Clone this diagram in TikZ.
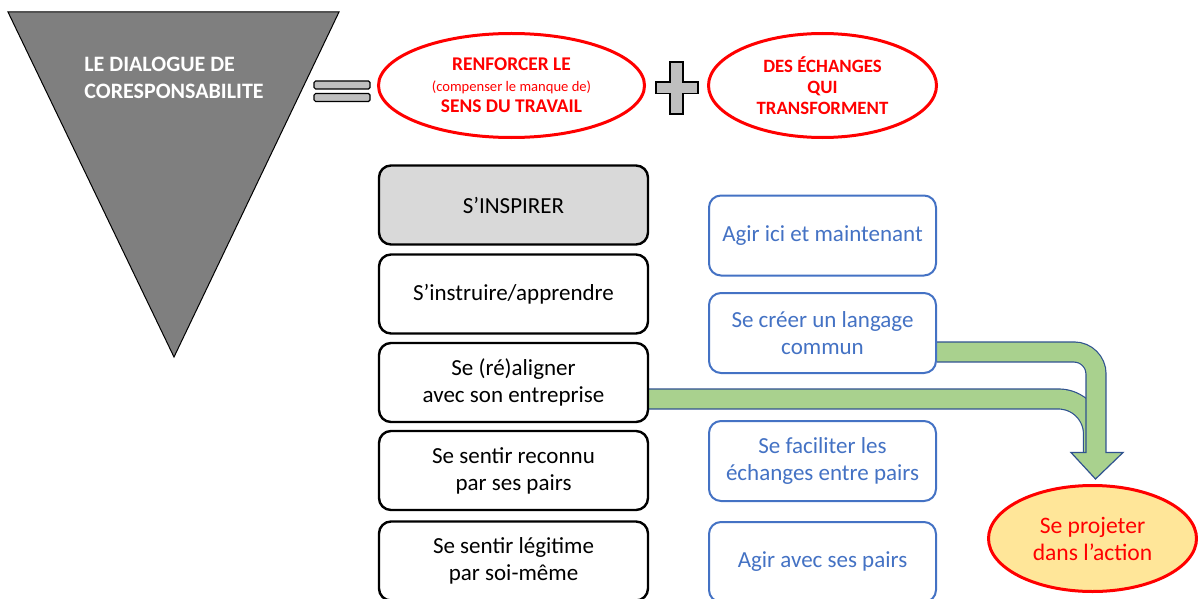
\documentclass[tikz,border=0pt]{standalone}
\usepackage{fontspec}
\setmainfont{Carlito}
\definecolor{DLGgray}{HTML}{7F7F7F}
\definecolor{DLGlight}{HTML}{BFBFBF}
\definecolor{DLGbox}{HTML}{D9D9D9}
\definecolor{DLGred}{HTML}{FF0000}
\definecolor{DLGblue}{HTML}{4472C4}
\definecolor{DLGgreen}{HTML}{A9D18E}
\definecolor{DLGedge}{HTML}{2F528F}
\definecolor{DLGyellow}{HTML}{FFE699}
\usetikzlibrary{shapes.geometric, calc, positioning, backgrounds}

\begin{document}
\begin{tikzpicture}[x=0.5pt, y=-0.5pt,
      leftbox/.style={draw=black, line width=1.2pt, rounded corners=6pt, fill=white,
         minimum width=134.5pt, minimum height=39.5pt, inner sep=0pt, align=center,
         font=\fontsize{11.5}{13.5}\selectfont},
      rightbox/.style={draw=DLGblue, line width=1pt, rounded corners=6pt, fill=white,
         minimum width=113.5pt, minimum height=40pt, inner sep=0pt, align=center,
         text=DLGblue, font=\fontsize{11.5}{13.5}\selectfont},
      redoval/.style={ellipse, draw=DLGred, line width=1.5pt, text=DLGred,
         inner sep=0pt, align=center},
      bandedge/.style={draw=DLGedge, line width=#1},
      bandfill/.style={draw=DLGgreen, line width=#1}]
      \useasboundingbox (0,0) rectangle (1198,599);
      % Funnel
      \draw[fill=DLGgray, line width=0.5pt] (8,12) -- (339,12) -- (174,357) -- cycle;
      \node[anchor=west, align=left, inner sep=0pt, text=white, font=\fontsize{11}{13.5}\selectfont\bfseries]
         (title) at (84,78) {LE DIALOGUE DE\\CORESPONSABILITE};
      % Equals sign
      \draw[fill=DLGlight, line width=0.6pt, rounded corners=0.8pt] (314,81) rectangle (370,89);
      \draw[fill=DLGlight, line width=0.6pt, rounded corners=0.8pt] (314,93.5) rectangle (370,101.5);
      % Top ovals
      \node[redoval, minimum width=133pt, minimum height=52pt, font=\fontsize{9.7}{10.5}\selectfont\bfseries]
         (sens) at (511.5,85.5) {RENFORCER LE\\{\mdseries\fontsize{7.3}{10.5}\selectfont (compenser le manque de)}\\SENS DU TRAVAIL};
      \node[redoval, minimum width=114pt, minimum height=52pt, font=\fontsize{9.4}{10.5}\selectfont\bfseries]
         (echanges) at (822.5,85.5) {DES ÉCHANGES\\QUI\\TRANSFORMENT};
      % Plus sign
      \draw[fill=DLGlight, line width=0.6pt] (670,62) -- (683,62) -- (683,82) -- (698,82) -- (698,93.5)
         -- (683,93.5) -- (683,114) -- (670,114) -- (670,93.5) -- (656,93.5) -- (656,82) -- (670,82) -- cycle;
      % Left column
      \node[leftbox, fill=DLGbox] (inspirer) at (513.5,205) {S’INSPIRER};
      \node[leftbox] (instruire) at (513.5,294) {S’instruire/apprendre};
      \node[leftbox] (aligner) at (513.5,382.5) {Se (ré)aligner\\avec son entreprise};
      \node[leftbox] (reconnu) at (513.5,470.5) {Se sentir reconnu\\par ses pairs};
      \node[leftbox] (legitime) at (513.5,561) {Se sentir légitime\\par soi-même};
      % Right column
      \node[rightbox] (ici) at (822.5,235.5) {Agir ici et maintenant};
      \node[rightbox] (langage) at (822.5,333) {Se créer un langage\\commun};
      \node[rightbox] (faciliter) at (822.5,461) {Se faciliter les\\échanges entre pairs};
      \node[rightbox] (pairs) at (822.5,562) {Agir avec ses pairs};
      % Goal
      \node[redoval, fill=DLGyellow, minimum width=104pt, minimum height=53pt,
         font=\fontsize{11.8}{13.5}\selectfont] (projet) at (1092.5,538.5) {Se projeter\\dans l’action};
      % Bent arrows
      \coordinate (headbase) at (1096,452.5);
      \begin{scope}[on background layer]
         \draw[bandedge=10.6pt, rounded corners=17.5pt] ($(aligner.east)+(0,16.5)$) -| ($(headbase)+(-2.5,0)$);
         \draw[bandfill=9.4pt, rounded corners=17.5pt] ($(aligner.east)+(0,16.5)$) -| ($(headbase)+(-2.5,0)$);
         \draw[fill=DLGgreen, draw=DLGedge, line width=0.6pt]
            ($(headbase)+(-25,0)$) -- ($(headbase)+(27,0)$) -- ($(projet.north)+(3,-5)$) -- cycle;
         \draw[bandedge=10.6pt, rounded corners=11pt] ($(langage.east)+(0,19)$) -| (headbase);
         \draw[bandfill=9.4pt, rounded corners=11pt] ($(langage.east)+(0,19)$) -| ($(headbase)+(0,2)$);
      \end{scope}
   \end{tikzpicture}
\end{document}
